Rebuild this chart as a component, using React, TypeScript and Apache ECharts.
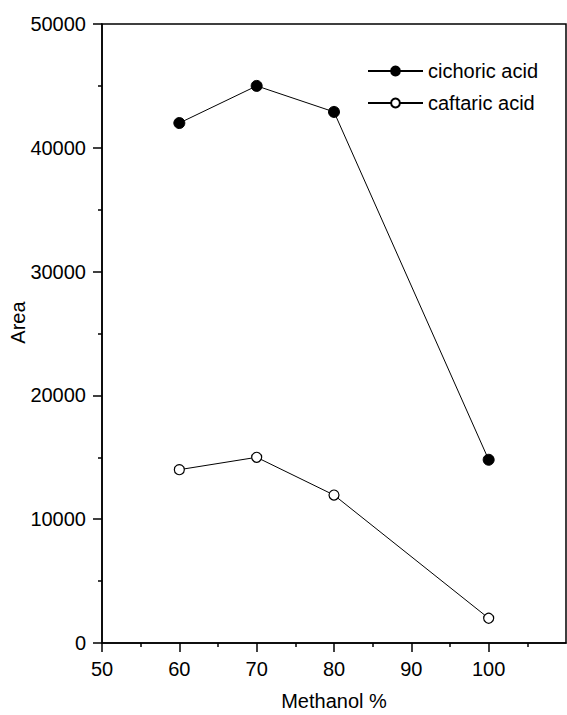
import React, { useEffect, useRef } from "react";
import * as echarts from "echarts";

const methanol = [60, 70, 80, 100];
const cichoric = [42000, 45000, 42900, 14800];
const caftaric = [14000, 15000, 11950, 2000];
const xTicks = [50, 60, 70, 80, 90, 100];
const seriesNames = ["cichoric acid", "caftaric acid"];

const FONT = "Liberation Sans, Arial, Helvetica, sans-serif";

export default function App() {
  const ref = useRef<HTMLDivElement>(null);
  useEffect(() => {
    document.body.style.margin = "0";
    if (!ref.current) return;
    const chart = echarts.init(ref.current, undefined, { renderer: "svg" });
    chart.setOption({
      animation: false,
      backgroundColor: "#fff",
      textStyle: { fontFamily: FONT, color: "#000" },
      grid: {
        left: 102,
        top: 24,
        right: 1,
        bottom: 72,
        show: true,
        borderColor: "#000",
        borderWidth: 1.5,
        containLabel: false,
        outerBoundsMode: "none",
      },
      legend: {
        orient: "vertical",
        left: 362,
        top: 56,
        itemWidth: 55,
        itemHeight: 11,
        itemGap: 12,
        data: seriesNames,
        textStyle: { fontFamily: FONT, fontSize: 20, color: "#000" },
      },
      xAxis: {
        type: "value",
        min: 50,
        max: 110,
        interval: 10,
        name: "Methanol %",
        nameLocation: "middle",
        nameGap: 48,
        nameTextStyle: { fontFamily: FONT, fontSize: 20, color: "#000" },
        axisLine: { show: true, onZero: false, lineStyle: { color: "#000", width: 1.5 } },
        axisTick: { show: true, length: 9, customValues: xTicks, lineStyle: { color: "#000", width: 1.5 } },
        minorTick: { show: true, splitNumber: 2, length: 4, lineStyle: { color: "#000", width: 1.5 } },
        axisLabel: { customValues: xTicks, margin: 16, fontFamily: FONT, fontSize: 20, color: "#000" },
        splitLine: { show: false },
      },
      yAxis: {
        type: "value",
        min: 0,
        max: 50000,
        interval: 10000,
        name: "Area",
        nameLocation: "middle",
        nameGap: 74,
        nameMoveOverlap: false,
        nameTextStyle: { fontFamily: FONT, fontSize: 20, color: "#000", padding: [0, 0, 0, 22] },
        axisLine: { show: true, lineStyle: { color: "#000", width: 1.5 } },
        axisTick: { show: true, length: 9, lineStyle: { color: "#000", width: 1.5 } },
        minorTick: { show: true, splitNumber: 2, length: 4, lineStyle: { color: "#000", width: 1.5 } },
        axisLabel: {
          margin: 16,
          fontFamily: FONT,
          fontSize: 20,
          color: "#000",
          formatter: (v: number) => String(v),
        },
        splitLine: { show: false },
      },
      series: [
        {
          name: seriesNames[0],
          type: "line",
          data: methanol.map((x, i) => [x, cichoric[i]]),
          symbol: "circle",
          symbolSize: 11,
          lineStyle: { color: "#000", width: 1 },
          itemStyle: { color: "#000", borderColor: "#000", borderWidth: 1 },
          color: "#000",
        },
        {
          name: seriesNames[1],
          type: "line",
          data: methanol.map((x, i) => [x, caftaric[i]]),
          symbol: "circle",
          symbolSize: 10,
          lineStyle: { color: "#000", width: 1 },
          itemStyle: { color: "#fff", borderColor: "#000", borderWidth: 1.2 },
          color: "#000",
        },
      ],
    });
    return () => chart.dispose();
  }, []);
  return <div ref={ref} style={{ width: 567, height: 715 }} />;
}
